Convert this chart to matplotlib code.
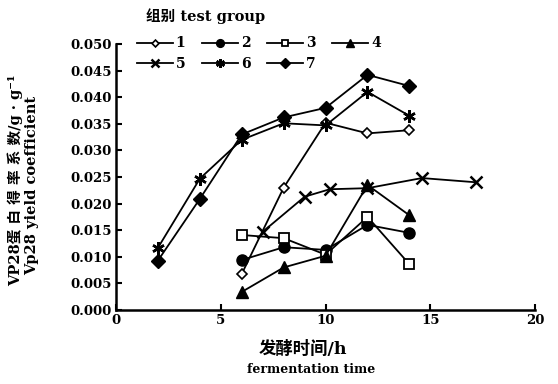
import numpy as np
import matplotlib
matplotlib.use('Agg')
import matplotlib.pyplot as plt

plt.rcParams['font.family'] = ['DejaVu Serif', 'Noto Sans CJK SC']
plt.rcParams['font.weight'] = 'bold'

# data
t1 = [6, 8, 10, 12, 14]
g1 = [0.0068, 0.0230, 0.0352, 0.0332, 0.0338]
t2 = [6, 8, 10, 12, 14]
g2 = [0.0094, 0.0118, 0.0113, 0.0160, 0.0145]
t3 = [6, 8, 10, 12, 14]
g3 = [0.0141, 0.0135, 0.0104, 0.0175, 0.0086]
t4 = [6, 8, 10, 12, 14]
g4 = [0.0034, 0.0080, 0.0102, 0.0235, 0.0178]
t5 = [7, 9, 10.2, 12, 14.6, 17.2]
g5 = [0.0147, 0.0213, 0.0227, 0.0229, 0.0248, 0.0240]
t6 = [2, 4, 6, 8, 10, 12, 14]
g6 = [0.0117, 0.0247, 0.0320, 0.0351, 0.0347, 0.0410, 0.0365]
t7 = [2, 4, 6, 8, 10, 12, 14]
g7 = [0.0093, 0.0209, 0.0330, 0.0362, 0.0380, 0.0442, 0.0421]

labels = ['1', '2', '3', '4', '5', '6', '7']
asterisk = (6, 2, 0)

fig = plt.figure(figsize=(5.58, 3.84), dpi=100)
ax = fig.add_axes([0.208, 0.1927, 0.751, 0.6927])

kw = dict(color='black', lw=1.3)
h1, = ax.plot(t1, g1, marker='D', mfc='white', mec='black', ms=5, mew=1.2, label=labels[0], **kw)
h2, = ax.plot(t2, g2, marker='o', mfc='black', mec='black', ms=8, label=labels[1], **kw)
h3, = ax.plot(t3, g3, marker='s', mfc='white', mec='black', ms=7, mew=1.3, label=labels[2], **kw)
h4, = ax.plot(t4, g4, marker='^', mfc='black', mec='black', ms=8, label=labels[3], **kw)
h5, = ax.plot(t5, g5, marker='x', mec='black', ms=8, mew=1.8, label=labels[4], **kw)
h6, = ax.plot(t6, g6, marker=asterisk, mec='black', ms=9, mew=1.8, label=labels[5], **kw)
h7, = ax.plot(t7, g7, marker='D', mfc='black', mec='black', ms=7, label=labels[6], **kw)

ax.set_xlim(0, 20)
ax.set_ylim(0, 0.050)
ax.set_xticks([0, 5, 10, 15, 20])
yt = np.arange(0, 0.0501, 0.005)
ax.set_yticks(yt)
ax.set_yticklabels(['%.3f' % v for v in yt])
ax.spines['top'].set_visible(False)
ax.spines['right'].set_visible(False)
ax.spines['left'].set_linewidth(1.8)
ax.spines['bottom'].set_linewidth(1.8)
ax.tick_params(direction='in', length=4, width=1.5, labelsize=9.5, pad=3)
for lab in ax.get_xticklabels() + ax.get_yticklabels():
    lab.set_fontweight('bold')

# axis titles
fig.text(0.542, 0.090, '发酵时间/h', fontsize=12.5, fontweight='bold', ha='center', va='center')
fig.text(0.558, 0.038, 'fermentation time', fontsize=9, fontweight='bold', ha='center', va='center')
fig.text(0.028, 0.531, 'VP28蛋 白 得 率 系 数/g · g⁻¹', fontsize=10.5, fontweight='bold',
         rotation=90, ha='center', va='center')
fig.text(0.058, 0.518, 'Vp28 yield coefficient', fontsize=10.5, fontweight='bold',
         rotation=90, ha='center', va='center')

# legend filled row by row
order = [h1, h5, h2, h6, h3, h7, h4]
fig.legend(order, [h.get_label() for h in order], ncol=4, loc='upper left',
           bbox_to_anchor=(0.245, 0.905), frameon=False, fontsize=10,
           handlelength=2.6, handletextpad=0.2, columnspacing=1.2,
           labelspacing=0.45, borderpad=0, borderaxespad=0, markerscale=0.7)
fig.text(0.368, 0.957, '组别 test group', fontsize=10.5, fontweight='bold',
         ha='center', va='center')

fig.savefig('out.png', dpi=100)
